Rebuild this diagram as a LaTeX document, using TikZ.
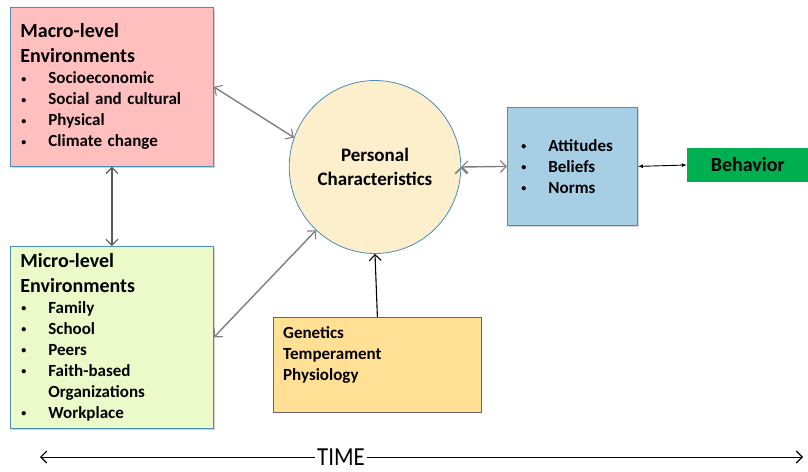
\documentclass[tikz,border=0pt]{standalone}
\usepackage{fontspec}
\setmainfont{Carlito}
\newfontfamily\timefont[FakeStretch=0.88]{Carlito}
\usetikzlibrary{shapes.geometric,shadows,arrows.meta}
\definecolor{macrofill}{HTML}{FFBFBF}
\definecolor{microfill}{HTML}{EBFAC8}
\definecolor{persfill}{HTML}{FDEFCB}
\definecolor{normfill}{HTML}{A6CFE6}
\definecolor{behfill}{HTML}{00B050}
\definecolor{genfill}{HTML}{FFE095}
\definecolor{boxline}{HTML}{4A8DB5}
\definecolor{arrgray}{HTML}{7F7F7F}
\newcommand{\bul}{\makebox[28pt][l]{\hspace{1pt}\raisebox{0.2ex}{\fontsize{10}{10}\selectfont\textbullet}}}
\newcommand{\ttl}{\fontsize{20}{25}\selectfont}
\tikzset{every node/.style={align=left}, >= {Straight Barb[length=6pt,width=12pt,line width=1.1pt]},
  font=\bfseries\fontsize{17}{21}\selectfont,
  envbox/.style={draw=boxline, line width=0.8pt, inner xsep=10pt, anchor=north west,
    drop shadow={shadow xshift=1.5pt, shadow yshift=-1.5pt, opacity=0.35}},
  grayarrow/.style={<->, draw=arrgray, line width=1.4pt}}

\begin{document}
\begin{tikzpicture}[x=1pt, y=-1pt]
            \useasboundingbox (0,0) rectangle (808,471);
            \node [envbox, fill=macrofill, text width=183, minimum height=159] (macro) at (10,7)
                {{\ttl Macro-level\\Environments\par}
                 \bul Socioeconomic\\ \bul Social and cultural\\ \bul Physical\\ \bul Climate change};
            \node [envbox, fill=microfill, text width=183, minimum height=182] (micro) at (10,246)
                {{\ttl Micro-level\\Environments\par}
                 \bul Family\\ \bul School\\ \bul Peers\\ \bul Faith-based\\ \hspace*{28pt}Organizations\\ \bul Workplace};
            \node [ellipse, draw=boxline, line width=0.8pt, fill=persfill, align=center,
                   minimum width=164, minimum height=173, font=\bfseries\fontsize{19}{24}\selectfont] (pers) at (375,167)
                {Personal\\Characteristics};
            \node [envbox, fill=normfill, inner xsep=13pt, text width=104, minimum height=118] (norms) at (507,107)
                {\bul Attitudes\\ \bul Beliefs\\ \bul Norms};
            \node [fill=behfill, anchor=west, align=center, minimum width=121, minimum height=34,
                   font=\bfseries\fontsize{20}{22}\selectfont] (beh) at (687,165) {Behavior};
            \node [draw=arrgray!80!black, line width=0.8pt, fill=genfill, anchor=north west,
                   minimum width=208, minimum height=95] (gen) at (273,317) {};
            \node [anchor=north west, inner sep=0pt] (gentxt) at ([shift={(10,9)}]gen.north west)
                {Genetics\\Temperament\\Physiology};

            \path[grayarrow] (macro.east) edge (pers.160)
                (micro.east) edge (pers.227)
                (pers.east) edge (norms.west);
            \draw[grayarrow, draw=arrgray!70!black] (macro.south) -- (micro.north);
            \draw[{Latex[length=5pt]}-{Latex[length=5pt]}, line width=0.9pt] (norms.east) -- (beh.west);
            \draw[->, line width=1.1pt] (gen.north) -- (pers.south);

            % time line
            \node [inner sep=2pt, font=\timefont\fontsize{26}{26}\selectfont] (time) at (341,457) {TIME};
            \coordinate (tstart) at (40,457);
            \coordinate (tend) at (803,457);
            \draw[->, line width=0.9pt] (time) -- (tstart);
            \draw[->, line width=0.9pt] (time) -- (tend);
        \end{tikzpicture}
\end{document}
